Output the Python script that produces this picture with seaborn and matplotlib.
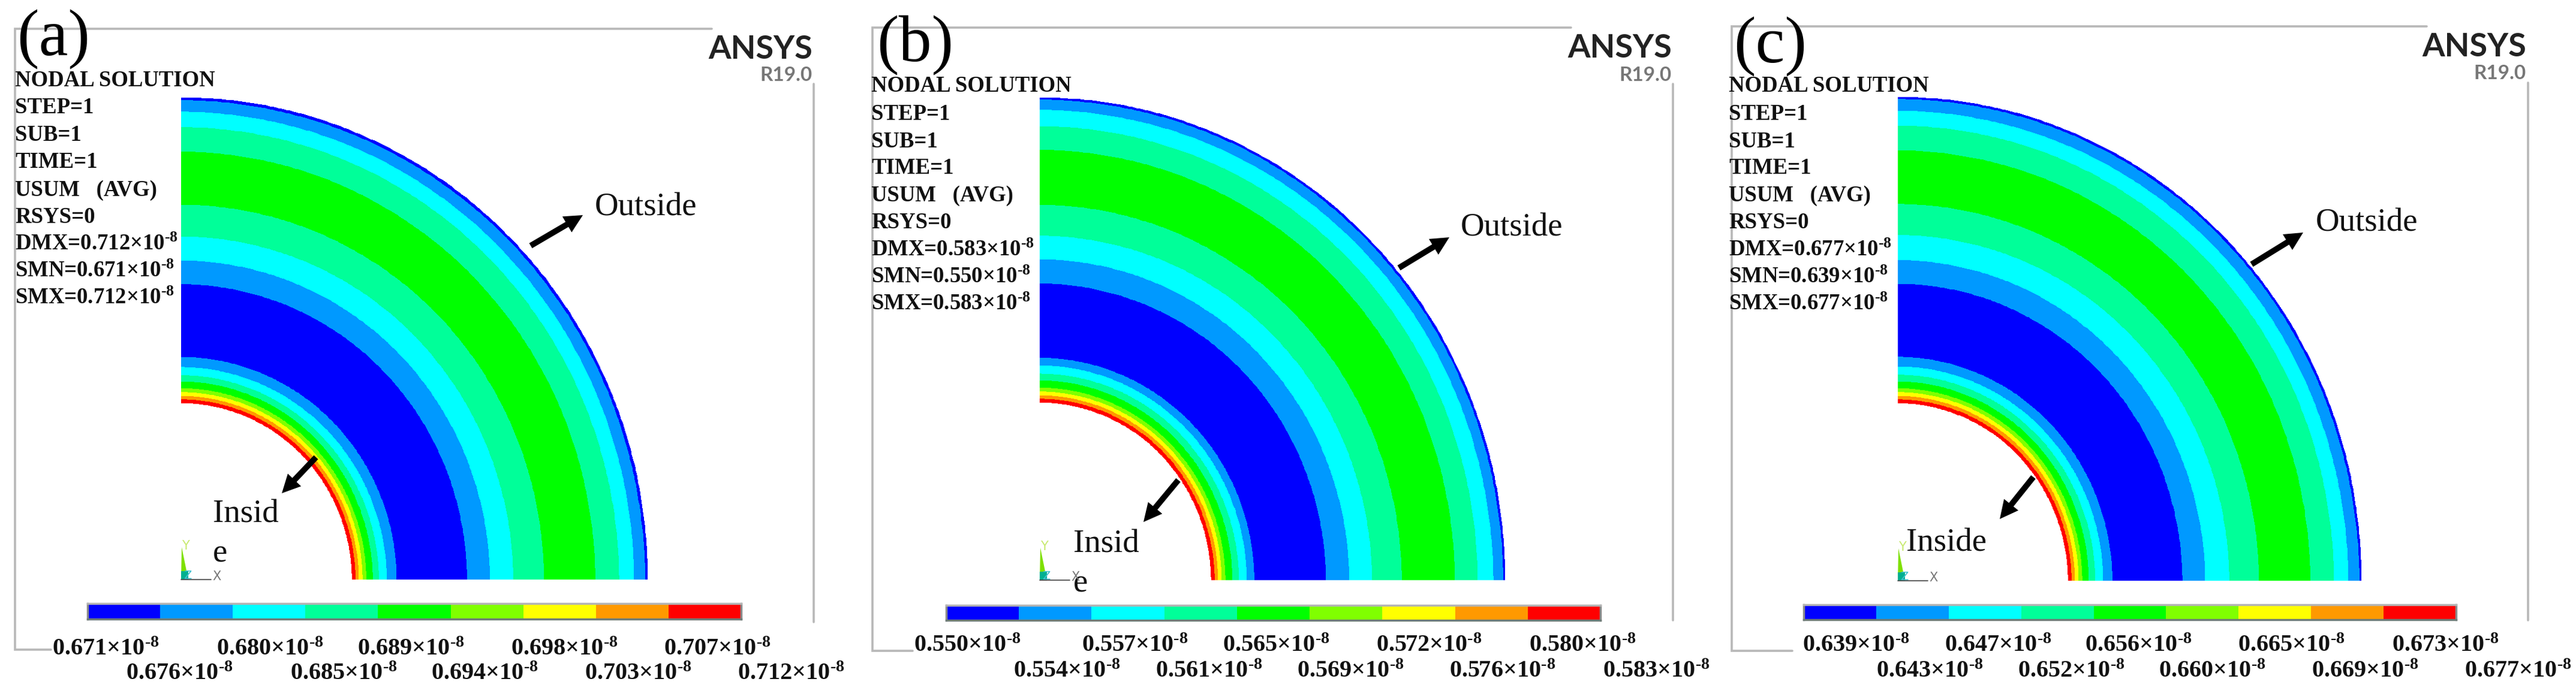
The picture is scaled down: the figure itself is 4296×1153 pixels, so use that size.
import numpy as np
import matplotlib
matplotlib.use("Agg")
import matplotlib.pyplot as plt
from matplotlib.colors import ListedColormap
from matplotlib.patches import Polygon
import seaborn as sns

# contour level colours (ANSYS 9 band legend)
level_colors = ["#0000ff", "#0099ff", "#00ffff", "#00ff99", "#00ff00",
                "#80ff00", "#ffff00", "#ff9900", "#ff0000"]

# band level index from the inner edge to the outer edge
band_levels = [8, 7, 6, 5, 4, 3, 2, 1, 0, 1, 2, 3, 4, 3, 2, 1, 0]

# band edges as a fraction of the outer radius
radii_a = [.366, .374, .381, .389, .397, .411, .424, .441, .462, .613, .662, .712, .778, .888, .939, .971, .995, 1.0]
radii_b = [.368, .376, .383, .391, .399, .414, .428, .445, .461, .615, .665, .714, .778, .892, .941, .975, .996, 1.0]
radii_c = [.367, .375, .382, .390, .398, .412, .426, .443, .463, .614, .663, .715, .779, .890, .941, .972, .996, 1.0]

ticks_a = ["0.671", "0.676", "0.680", "0.685", "0.689", "0.694", "0.698", "0.703", "0.707", "0.712"]
ticks_b = ["0.550", "0.554", "0.557", "0.561", "0.565", "0.569", "0.572", "0.576", "0.580", "0.583"]
ticks_c = ["0.639", "0.643", "0.647", "0.652", "0.656", "0.660", "0.665", "0.669", "0.673", "0.677"]

header = ["NODAL SOLUTION", "STEP=1", "SUB=1", "TIME=1", "USUM   (AVG)", "RSYS=0"]
inside_a = ["Insid", "e"]
inside_b = ["Insid", "e"]
inside_c = ["Inside"]

W, H = 4296, 1153

sns.set_style("white")
plt.rcParams["font.family"] = ["Liberation Serif", "DejaVu Serif"]
plt.rcParams["mathtext.fontset"] = "custom"
plt.rcParams["mathtext.rm"] = "Liberation Serif:bold"
plt.rcParams["mathtext.default"] = "rm"

# layout of each panel, in image pixels
panels = [
    dict(tag="(a)", radii=radii_a, ticks=ticks_a, inside=inside_a,
         cx=302, cy=967, rx=778, ry=804,
         left=25, top=48, bottom=1084, top_end=1187, bottom_end=85, right=1357, right_top=140, right_end=1038,
         head_x=25, head_y=[132, 177, 223, 268, 315, 360, 405, 450, 495],
         tag_x=28, tag_base=93,
         ansys_x=1355, ansys_base=98, rel_base=135,
         bar=(146, 1236, 1007, 1033),
         tick_x=[87, 210, 361, 484, 596, 719, 852, 975, 1107, 1230], tick_y=(1081, 1122),
         out_x=992, out_base=360, out_arrow=((885, 410), (972, 359)),
         in_x=355, in_base=[872, 938], in_arrow=((527, 763), (470, 823))),
    dict(tag="(b)", radii=radii_b, ticks=ticks_b, inside=inside_b,
         cx=1734, cy=968, rx=776, ry=805,
         left=1455, top=46, bottom=1086, top_end=2620, bottom_end=1522, right=2790, right_top=140, right_end=1035,
         head_x=1453, head_y=[141, 188, 234, 278, 324, 369, 415, 460, 505],
         tag_x=1462, tag_base=103,
         ansys_x=2788, ansys_base=96, rel_base=135,
         bar=(1578, 2669, 1010, 1035),
         tick_x=[1524, 1690, 1804, 1927, 2039, 2163, 2295, 2417, 2550, 2673], tick_y=(1075, 1118),
         out_x=2436, out_base=393, out_arrow=((2333, 447), (2417, 396)),
         in_x=1790, in_base=[921, 987], in_arrow=((1965, 801), (1907, 871))),
    dict(tag="(c)", radii=radii_c, ticks=ticks_c, inside=inside_c,
         cx=3165, cy=969, rx=773, ry=807,
         left=2888, top=44, bottom=1086, top_end=4047, bottom_end=2989, right=4216, right_top=138, right_end=1035,
         head_x=2883, head_y=[141, 188, 234, 278, 324, 369, 415, 460, 505],
         tag_x=2891, tag_base=105,
         ansys_x=4213, ansys_base=94, rel_base=132,
         bar=(3008, 4096, 1009, 1034),
         tick_x=[3006, 3129, 3243, 3365, 3477, 3600, 3732, 3855, 3989, 4110], tick_y=(1075, 1118),
         out_x=3862, out_base=385, out_arrow=((3755, 441), (3841, 388)),
         in_x=3179, in_base=[919], in_arrow=((3391, 796), (3335, 866))),
]
dmx = [ticks_a[-1], ticks_b[-1], ticks_c[-1]]
smn = [ticks_a[0], ticks_b[0], ticks_c[0]]
smx = dmx

cmap = ListedColormap(sns.color_palette(level_colors))


def px_axes(fig, x0, x1, y0, y1):
    # y0 is the upper edge in image pixels
    return fig.add_axes([x0 / W, 1 - y1 / H, (x1 - x0) / W, (y1 - y0) / H])


def sci(value):
    return value + "×10" + r"$^{\text{-8}}$"


fig = plt.figure(figsize=(W / 100, H / 100), dpi=100, facecolor="white")

for p in panels:
    # the contour quadrant
    ax = px_axes(fig, p["cx"], p["cx"] + p["rx"], p["cy"] - p["ry"], p["cy"])
    theta = np.linspace(0, np.pi / 2, 181)
    r = np.array(p["radii"])
    xx = np.outer(r, np.cos(theta))
    yy = np.outer(r, np.sin(theta))
    cc = np.repeat(np.array(band_levels)[:, None], len(theta) - 1, axis=1)
    ax.pcolormesh(xx, yy, cc, cmap=cmap, vmin=-0.5, vmax=8.5, shading="flat", rasterized=True)
    ax.set_xlim(0, 1)
    ax.set_ylim(0, 1)
    ax.axis("off")

    # legend strip
    x0, x1, y0, y1 = p["bar"]
    cax = px_axes(fig, x0, x1, y0, y1)
    sns.heatmap(np.arange(9)[None, :], ax=cax, cmap=cmap, vmin=-0.5, vmax=8.5, cbar=False,
                xticklabels=False, yticklabels=False)
    for side, col in zip(["top", "bottom", "left", "right"], ["#b4b4b4", "#6e7c78", "#8a8a8a", "#8a8a8a"]):
        cax.spines[side].set_visible(True)
        cax.spines[side].set_color(col)
        cax.spines[side].set_linewidth(2.5)

# everything else goes on one overlay in pixel coordinates
ov = fig.add_axes([0, 0, 1, 1], facecolor="none")
ov.set_xlim(0, W)
ov.set_ylim(H, 0)
ov.axis("off")

frame = "#b8b8b8"
for i, p in enumerate(panels):
    ov.plot([p["bottom_end"], p["left"], p["left"], p["top_end"]],
            [p["bottom"], p["bottom"], p["top"], p["top"]], color=frame, lw=2.6, solid_joinstyle="miter")
    ov.plot([p["right"], p["right"]], [p["right_top"], p["right_end"]], color=frame, lw=2.6)

    ov.text(p["tag_x"], p["tag_base"], p["tag"], fontsize=79, color="black", va="baseline")

    lines = header + ["DMX=" + sci(dmx[i]), "SMN=" + sci(smn[i]), "SMX=" + sci(smx[i])]
    for txt, y in zip(lines, p["head_y"]):
        ov.text(p["head_x"], y + 12, txt, fontsize=26.5, fontweight="bold", color="#111111", va="baseline")

    ov.text(p["ansys_x"], p["ansys_base"], "ANSYS", fontsize=39, fontweight="bold", color="#222222",
            family=["Lato", "DejaVu Sans"], ha="right", va="baseline")
    ov.text(p["ansys_x"], p["rel_base"], "R19.0", fontsize=24, fontweight="bold", color="#777777",
            family=["Lato", "DejaVu Sans"], ha="right", va="baseline")

    for j, (val, x) in enumerate(zip(p["ticks"], p["tick_x"])):
        ov.text(x, p["tick_y"][j % 2] + 12, sci(val), fontsize=29, fontweight="bold", color="#111111", va="baseline")

    ov.text(p["out_x"], p["out_base"], "Outside", fontsize=39.5, color="#111111", va="baseline")
    for txt, y in zip(p["inside"], p["in_base"]):
        ov.text(p["in_x"], y, txt, fontsize=39.5, color="#111111", va="baseline")

    for start, tip in [p["out_arrow"], p["in_arrow"]]:
        ov.annotate("", xy=tip, xytext=start,
                    arrowprops=dict(facecolor="black", edgecolor="black", width=7, headwidth=22,
                                    headlength=22, shrink=0, lw=0))

    # global axis triad under the quadrant
    cx, cy = p["cx"], p["cy"]
    ov.add_patch(Polygon([(cx, cy), (cx + 12, cy), (cx + 1, cy - 54)], closed=True, color="#7fe000", lw=0))
    ov.add_patch(Polygon([(cx, cy), (cx + 12, cy), (cx + 12, cy - 14), (cx, cy - 14)], closed=True, color="#00b090", lw=0))
    ov.plot([cx, cx + 50], [cy, cy], color="#444444", lw=1.2)
    ov.text(cx + 52, cy + 1, "X", fontsize=15, color="#777777", family="DejaVu Sans", va="baseline")
    ov.text(cx + 1, cy - 50, "Y", fontsize=15, color="#c8ea70", family="DejaVu Sans", va="baseline")
    ov.text(cx + 4, cy - 1, "Z", fontsize=14, color="#40c0d0", family="DejaVu Sans", va="baseline")

fig.savefig("out.png", dpi=100)
